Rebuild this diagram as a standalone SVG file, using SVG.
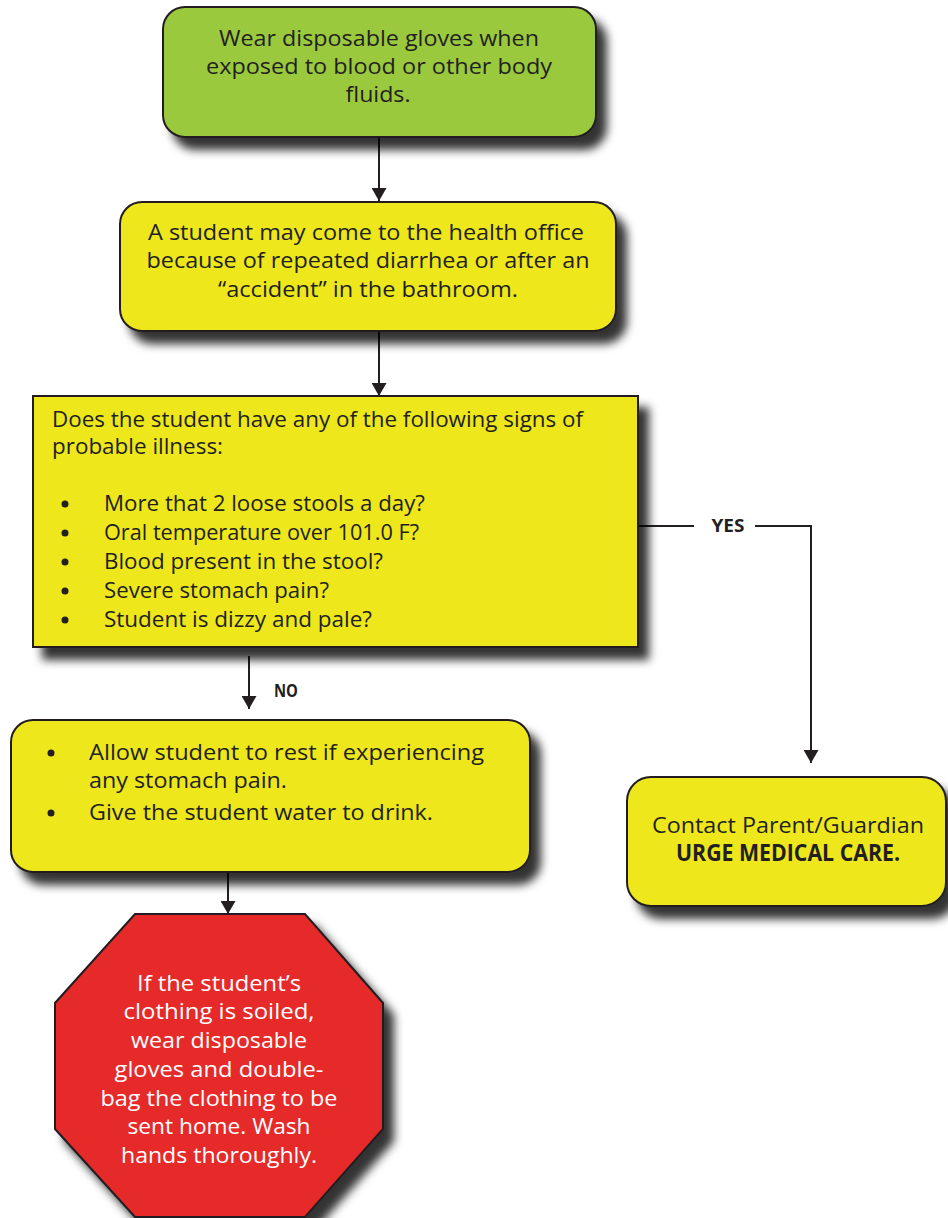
<svg xmlns="http://www.w3.org/2000/svg" width="948" height="1218" viewBox="0 0 948 1218">
  <defs>
    <style>
      .box { stroke: #231f20; stroke-width: 2; filter: url(#drop); }
      .green { fill: #9bc93d; }
      .yellow { fill: #eee71b; }
      .red { fill: #e62a2a; }
      .t { font-family: "Open Sans", "Noto Sans", sans-serif; font-size: 22.5px; fill: #231f20; }
      .cond { font-size: 21.5px; }
      .c { text-anchor: middle; }
      .w { fill: #ffffff; }
      .b { font-weight: 700; }
      .lbl { font-family: "Open Sans", "Noto Sans", sans-serif; font-size: 17px; font-weight: 700; fill: #231f20; }
      .wire { stroke: #231f20; stroke-width: 2; fill: none; }
      .dot { fill: #231f20; }
    </style>
    <filter id="drop" x="-10%" y="-10%" width="130%" height="145%">
      <feGaussianBlur in="SourceAlpha" stdDeviation="5"/>
      <feOffset dx="10" dy="12" result="blur"/>
      <feFlood flood-color="#000000" flood-opacity="0.8"/>
      <feComposite in2="blur" operator="in"/>
      <feMerge>
        <feMergeNode/>
        <feMergeNode in="SourceGraphic"/>
      </feMerge>
    </filter>
    <marker id="arrow" viewBox="0 0 13 15" refX="13" refY="7.5" markerWidth="13" markerHeight="15" markerUnits="userSpaceOnUse" orient="auto">
      <path d="M0,0 L13,7.5 L0,15 z" fill="#231f20"/>
    </marker>
  </defs>

  <!-- connectors -->
  <g id="connectors">
    <line class="wire" x1="379" y1="137" x2="379" y2="201" marker-end="url(#arrow)"/>
    <line class="wire" x1="379" y1="331" x2="379" y2="396" marker-end="url(#arrow)"/>
    <line class="wire" x1="638" y1="526" x2="694" y2="526"/>
    <path class="wire" d="M755,526 H811 V763" marker-end="url(#arrow)"/>
    <text class="lbl" x="728" y="532" text-anchor="middle" textLength="33" lengthAdjust="spacingAndGlyphs">YES</text>
    <line class="wire" x1="249" y1="656" x2="249" y2="709" marker-end="url(#arrow)"/>
    <text class="lbl" x="286" y="697" text-anchor="middle" textLength="24" lengthAdjust="spacingAndGlyphs">NO</text>
    <line class="wire" x1="228" y1="872" x2="228" y2="914" marker-end="url(#arrow)"/>
  </g>

  <!-- gloves reminder -->
  <g id="node-gloves">
    <rect class="box green" x="163" y="7" width="433" height="130" rx="22"/>
    <text class="t c" x="379" y="46" textLength="320" lengthAdjust="spacingAndGlyphs">Wear disposable gloves when</text>
    <text class="t c" x="379" y="74" textLength="346" lengthAdjust="spacingAndGlyphs">exposed to blood or other body</text>
    <text class="t c" x="378" y="102" textLength="65" lengthAdjust="spacingAndGlyphs">fluids.</text>
  </g>

  <!-- arrival at health office -->
  <g id="node-arrival">
    <rect class="box yellow" x="120" y="202" width="496" height="129" rx="22"/>
    <text class="t c" x="366" y="240" textLength="436" lengthAdjust="spacingAndGlyphs">A student may come to the health office</text>
    <text class="t c" x="368" y="268" textLength="443" lengthAdjust="spacingAndGlyphs">because of repeated diarrhea or after an</text>
    <text class="t c" x="368" y="297" textLength="300" lengthAdjust="spacingAndGlyphs">“accident” in the bathroom.</text>
  </g>

  <!-- illness check -->
  <g id="node-check">
    <rect class="box yellow" x="33" y="396" width="605" height="251"/>
    <text class="t cond" x="52" y="427" textLength="531" lengthAdjust="spacingAndGlyphs">Does the student have any of the following signs of</text>
    <text class="t cond" x="52" y="454" textLength="171" lengthAdjust="spacingAndGlyphs">probable illness:</text>
    <circle class="dot" cx="65" cy="504" r="3.5"/>
    <text class="t cond" x="104" y="511" textLength="321" lengthAdjust="spacingAndGlyphs">More that 2 loose stools a day?</text>
    <circle class="dot" cx="65" cy="533" r="3.5"/>
    <text class="t cond" x="104" y="540" textLength="315" lengthAdjust="spacingAndGlyphs">Oral temperature over 101.0 F?</text>
    <circle class="dot" cx="65" cy="562" r="3.5"/>
    <text class="t cond" x="104" y="569" textLength="279" lengthAdjust="spacingAndGlyphs">Blood present in the stool?</text>
    <circle class="dot" cx="65" cy="591" r="3.5"/>
    <text class="t cond" x="104" y="598" textLength="225" lengthAdjust="spacingAndGlyphs">Severe stomach pain?</text>
    <circle class="dot" cx="65" cy="620" r="3.5"/>
    <text class="t cond" x="104" y="627" textLength="268" lengthAdjust="spacingAndGlyphs">Student is dizzy and pale?</text>
  </g>

  <!-- rest and water -->
  <g id="node-rest">
    <rect class="box yellow" x="11" y="720" width="519" height="152" rx="22"/>
    <circle class="dot" cx="51" cy="753" r="3.5"/>
    <text class="t" x="89" y="760" textLength="395" lengthAdjust="spacingAndGlyphs">Allow student to rest if experiencing</text>
    <text class="t" x="89" y="788" textLength="198" lengthAdjust="spacingAndGlyphs">any stomach pain.</text>
    <circle class="dot" cx="51" cy="813" r="3.5"/>
    <text class="t" x="89" y="820" textLength="344" lengthAdjust="spacingAndGlyphs">Give the student water to drink.</text>
  </g>

  <!-- contact parent -->
  <g id="node-contact">
    <rect class="box yellow" x="627" y="777" width="319" height="129" rx="24"/>
    <text class="t c" x="788" y="833" textLength="272" lengthAdjust="spacingAndGlyphs">Contact Parent/Guardian</text>
    <text class="t c b" x="788" y="861" textLength="224" lengthAdjust="spacingAndGlyphs">URGE MEDICAL CARE.</text>
  </g>

  <!-- soiled clothing stop sign -->
  <g id="node-clothing">
    <polygon class="box red" points="135,914 305,914 383,1003 383,1129 305,1217 135,1217 55,1129 55,1003"/>
    <text class="t c w" x="219" y="991" textLength="164" lengthAdjust="spacingAndGlyphs">If the student’s</text>
    <text class="t c w" x="219" y="1019" textLength="191" lengthAdjust="spacingAndGlyphs">clothing is soiled,</text>
    <text class="t c w" x="219" y="1048" textLength="176" lengthAdjust="spacingAndGlyphs">wear disposable</text>
    <text class="t c w" x="219" y="1077" textLength="209" lengthAdjust="spacingAndGlyphs">gloves and double-</text>
    <text class="t c w" x="219" y="1106" textLength="237" lengthAdjust="spacingAndGlyphs">bag the clothing to be</text>
    <text class="t c w" x="219" y="1134" textLength="183" lengthAdjust="spacingAndGlyphs">sent home. Wash</text>
    <text class="t c w" x="219" y="1163" textLength="196" lengthAdjust="spacingAndGlyphs">hands thoroughly.</text>
  </g>
</svg>
